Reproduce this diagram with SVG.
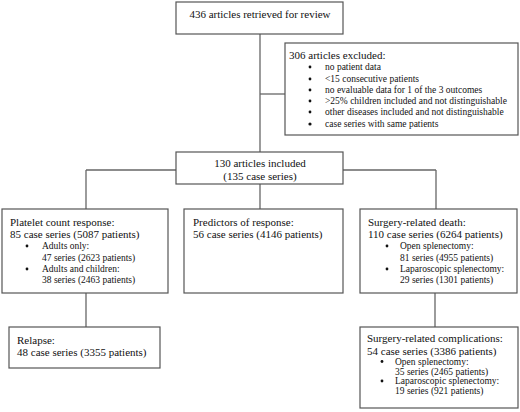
<svg xmlns="http://www.w3.org/2000/svg" width="520" height="412" viewBox="0 0 520 412">
<style>
rect.box{fill:#fff;stroke:#555;stroke-width:1.2}
.c line{stroke:#666;stroke-width:1.3}
text{font-family:"Liberation Serif","Times New Roman",serif;fill:#111}
.m{font-size:11px}
.s{font-size:9.5px}
circle{fill:#111}
</style>
<rect width="520" height="412" fill="#fff"/>
<g class="c" id="connectors">
<line x1="260" y1="34" x2="260" y2="152"/>
<line x1="260" y1="94" x2="285" y2="94"/>
<line x1="86" y1="170" x2="436" y2="170"/>
<line x1="260" y1="184" x2="260" y2="209"/>
<line x1="86" y1="170" x2="86" y2="209"/>
<line x1="436" y1="170" x2="436" y2="209"/>
<line x1="86" y1="293" x2="86" y2="327"/>
<line x1="435" y1="293" x2="435" y2="327"/>
</g>
<g id="retrieved">
<rect class="box" x="176" y="2" width="167" height="32"/>
<text class="m" x="260" y="17.5" text-anchor="middle">436 articles retrieved for review</text>
</g>
<g id="excluded">
<rect class="box" x="285" y="43" width="233" height="92"/>
<text class="m" x="289" y="59">306 articles excluded:</text>
<circle cx="310" cy="67" r="1.4"/><text class="s" x="325" y="70">no patient data</text>
<circle cx="310" cy="79" r="1.4"/><text class="s" x="325" y="82">&lt;15 consecutive patients</text>
<circle cx="310" cy="90" r="1.4"/><text class="s" x="325" y="93">no evaluable data for 1 of the 3 outcomes</text>
<circle cx="310" cy="101" r="1.4"/><text class="s" x="325" y="104">&gt;25% children included and not distinguishable</text>
<circle cx="310" cy="112" r="1.4"/><text class="s" x="325" y="115">other diseases included and not distinguishable</text>
<circle cx="310" cy="124" r="1.6"/><text class="s" x="325" y="127">case series with same patients</text>
</g>
<g id="included">
<rect class="box" x="176" y="152" width="167" height="32"/>
<text class="m" x="260" y="167" text-anchor="middle">130 articles included</text>
<text class="m" x="260" y="179.5" text-anchor="middle">(135 case series)</text>
</g>
<g id="platelet">
<rect class="box" x="2" y="209" width="166" height="84"/>
<text class="m" x="10" y="225.5">Platelet count response:</text>
<text class="m" x="10" y="237.5">85 case series (5087 patients)</text>
<circle cx="27" cy="246" r="1.4"/><text class="s" x="42" y="249">Adults only:</text>
<text class="s" x="42" y="260.5">47 series (2623 patients)</text>
<circle cx="27" cy="269" r="1.4"/><text class="s" x="42" y="272">Adults and children:</text>
<text class="s" x="42" y="283">38 series (2463 patients)</text>
</g>
<g id="predictors">
<rect class="box" x="184" y="209" width="159" height="84"/>
<text class="m" x="193" y="225.5">Predictors of response:</text>
<text class="m" x="193" y="237.5">56 case series (4146 patients)</text>
</g>
<g id="death">
<rect class="box" x="360" y="209" width="157" height="84"/>
<text class="m" x="368" y="225.5">Surgery-related death:</text>
<text class="m" x="368" y="237.5">110 case series (6264 patients)</text>
<circle cx="387" cy="246" r="1.4"/><text class="s" x="400" y="249">Open splenectomy:</text>
<text class="s" x="400" y="260.5">81 series (4955 patients)</text>
<circle cx="387" cy="269" r="1.4"/><text class="s" x="400" y="272">Laparoscopic splenectomy:</text>
<text class="s" x="400" y="283">29 series (1301 patients)</text>
</g>
<g id="relapse">
<rect class="box" x="9" y="327" width="151" height="41"/>
<text class="m" x="17" y="344">Relapse:</text>
<text class="m" x="17" y="356">48 case series (3355 patients)</text>
</g>
<g id="complications">
<rect class="box" x="360" y="327" width="158" height="81"/>
<text class="m" x="367" y="342">Surgery-related complications:</text>
<text class="m" x="367" y="354.5">54 case series (3386 patients)</text>
<circle cx="382" cy="361.5" r="1.4"/><text class="s" x="395" y="364.5">Open splenectomy:</text>
<text class="s" x="395" y="374.5">35 series (2465 patients)</text>
<circle cx="382" cy="381" r="1.4"/><text class="s" x="395" y="384">Laparoscopic splenectomy:</text>
<text class="s" x="395" y="394">19 series (921 patients)</text>
</g>
</svg>
